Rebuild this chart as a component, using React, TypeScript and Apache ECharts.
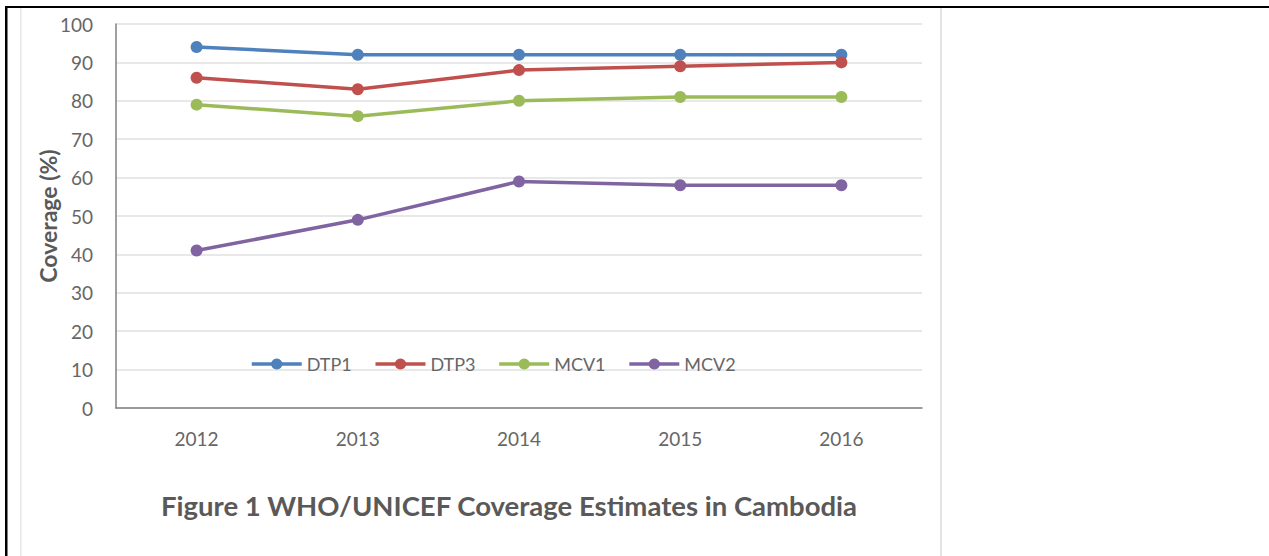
import React, { useEffect, useRef } from "react";
import * as echarts from "echarts";

const years = ["2012", "2013", "2014", "2015", "2016"];
const dtp1 = [94, 92, 92, 92, 92];
const dtp3 = [86, 83, 88, 89, 90];
const mcv1 = [79, 76, 80, 81, 81];
const mcv2 = [41, 49, 59, 58, 58];

const seriesNames = ["DTP1", "DTP3", "MCV1", "MCV2"];
const seriesColors = ["#4F81BD", "#C0504D", "#9BBB59", "#8064A2"];
const seriesData = [dtp1, dtp3, mcv1, mcv2];

const titleText = "Figure 1 WHO/UNICEF Coverage Estimates in Cambodia";
const FONT = "Lato, 'Open Sans', sans-serif";
const TEXT_GRAY = "#666666";
const TITLE_GRAY = "#595959";

export default function App() {
  const ref = useRef<HTMLDivElement>(null);

  useEffect(() => {
    if (!ref.current) return;
    const chart = echarts.init(ref.current, undefined, { renderer: "svg" });
    chart.setOption({
      animation: false,
      backgroundColor: "#ffffff",
      textStyle: { fontFamily: FONT },
      color: seriesColors,
      grid: { left: 116, right: 347, top: 24, bottom: 148 },
      legend: {
        left: 245,
        top: 350,
        itemWidth: 50,
        itemHeight: 14,
        itemGap: 22,
        lineStyle: { width: 3.5 },
        textStyle: { color: TEXT_GRAY, fontSize: 18, fontFamily: FONT },
        data: seriesNames,
      },
      xAxis: {
        type: "category",
        data: years,
        boundaryGap: true,
        axisLine: { lineStyle: { color: "#808080", width: 1.5 } },
        axisTick: { show: false },
        axisLabel: { color: TEXT_GRAY, fontSize: 19, margin: 21, fontFamily: FONT },
        splitLine: { show: false },
      },
      yAxis: {
        type: "value",
        min: 0,
        max: 100,
        interval: 10,
        name: "Coverage (%)",
        nameLocation: "middle",
        nameGap: 57,
        nameMoveOverlap: false,
        nameTextStyle: { color: TITLE_GRAY, fontSize: 23, fontWeight: "bold", fontFamily: FONT },
        axisLine: { show: true, lineStyle: { color: "#808080", width: 1.5 } },
        axisTick: { show: false },
        axisLabel: { color: TEXT_GRAY, fontSize: 19, margin: 23, fontFamily: FONT },
        splitLine: { lineStyle: { color: "#e0e0e0", width: 1.5 } },
      },
      series: seriesNames.map((name, i) => ({
        name,
        type: "line",
        data: seriesData[i],
        symbol: "circle",
        symbolSize: 12,
        lineStyle: { width: 3.5, color: seriesColors[i] },
        itemStyle: { color: seriesColors[i] },
      })),
      graphic: [
        // outer cell border
        { type: "rect", shape: { x: 5, y: 6, width: 1264, height: 2 }, style: { fill: "#000" } },
        { type: "rect", shape: { x: 5, y: 6, width: 2.5, height: 550 }, style: { fill: "#000" } },
        // figure frame
        { type: "rect", shape: { x: 20, y: 8, width: 1.5, height: 548 }, style: { fill: "#e6e6e6" } },
        { type: "rect", shape: { x: 940, y: 8, width: 2, height: 548 }, style: { fill: "#e3e3e3" } },
        {
          type: "text",
          style: {
            text: titleText,
            x: 509,
            y: 505,
            align: "center",
            verticalAlign: "middle",
            fill: TITLE_GRAY,
            font: `bold 27.5px ${FONT}`,
          },
        },
      ],
    });
    return () => chart.dispose();
  }, []);

  return (
    <div
      ref={ref}
      style={{ position: "fixed", left: 0, top: 0, width: 1269, height: 556 }}
    />
  );
}
